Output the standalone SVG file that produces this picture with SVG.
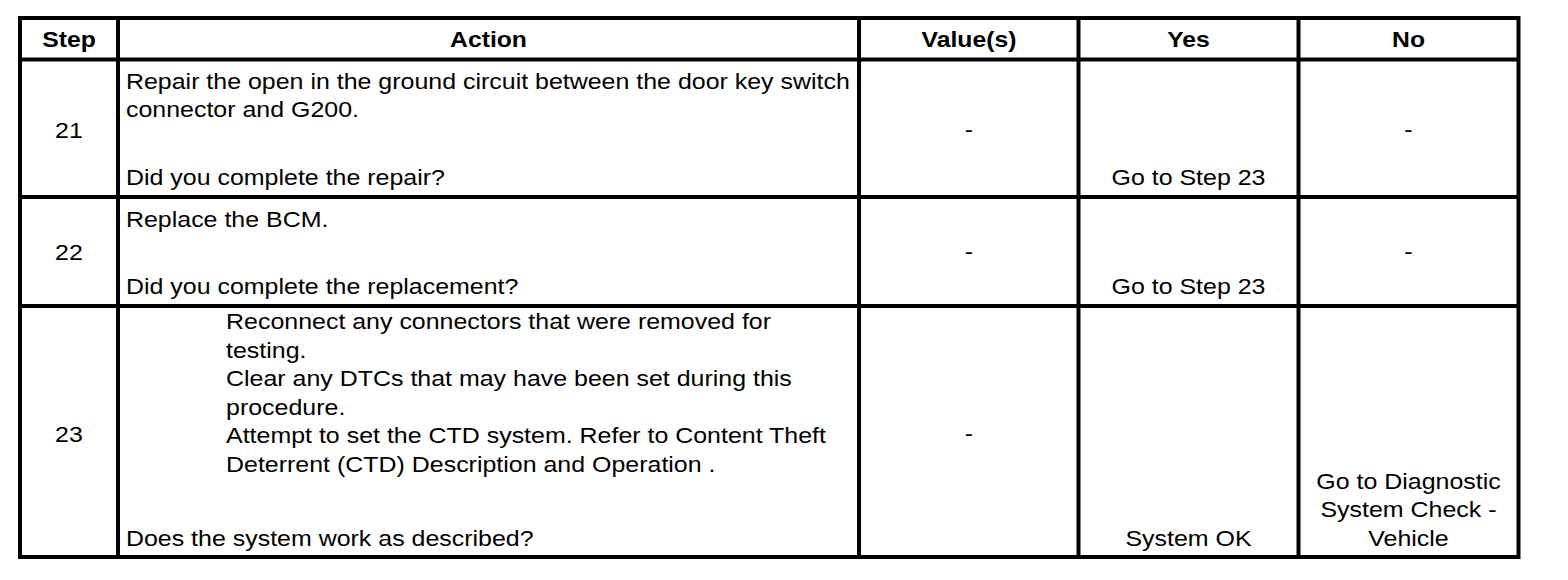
<svg xmlns="http://www.w3.org/2000/svg" width="1568" height="580" viewBox="0 0 1568 580">
  <style>
    .grid line { stroke: #000; stroke-width: 4; }
    .frame { fill: none; stroke: #000; stroke-width: 4; }
    text { font-family: "Liberation Sans", Arial, sans-serif; font-size: 21.5px; fill: #000; }
    .hd { font-weight: bold; text-anchor: middle; }
    .c { text-anchor: middle; }
  </style>
  <rect x="0" y="0" width="1568" height="580" fill="#fff"/>
  <g id="grid" class="grid">
    <rect class="frame" x="20" y="18" width="1498.5" height="539"/>
    <line x1="118" y1="18" x2="118" y2="557"/>
    <line x1="859" y1="18" x2="859" y2="557"/>
    <line x1="1078.5" y1="18" x2="1078.5" y2="557"/>
    <line x1="1298.5" y1="18" x2="1298.5" y2="557"/>
    <line x1="20" y1="59.5" x2="1518.5" y2="59.5"/>
    <line x1="20" y1="197" x2="1518.5" y2="197"/>
    <line x1="20" y1="306" x2="1518.5" y2="306"/>
  </g>
  <g id="header" transform="scale(1.15,1)">
    <text class="hd" x="60" y="47.5">Step</text>
    <text class="hd" x="424.8" y="47.5">Action</text>
    <text class="hd" x="842.6" y="47.5">Value(s)</text>
    <text class="hd" x="1033.5" y="47.5">Yes</text>
    <text class="hd" x="1224.8" y="47.5">No</text>
  </g>
  <g transform="scale(1.161,1)">
    <g id="row21">
      <text class="c" x="59.4" y="138">21</text>
      <text x="108.5" y="89">Repair the open in the ground circuit between the door key switch</text>
      <text x="108.5" y="117.5">connector and G200.</text>
      <text x="108.5" y="185">Did you complete the repair?</text>
      <text class="c" x="834.6" y="137.5">-</text>
      <text class="c" x="1023.7" y="185">Go to Step 23</text>
      <text class="c" x="1213.2" y="137.5">-</text>
    </g>
    <g id="row22">
      <text class="c" x="59.4" y="260">22</text>
      <text x="108.5" y="227">Replace the BCM.</text>
      <text x="108.5" y="294">Did you complete the replacement?</text>
      <text class="c" x="834.6" y="259">-</text>
      <text class="c" x="1023.7" y="294">Go to Step 23</text>
      <text class="c" x="1213.2" y="259">-</text>
    </g>
    <g id="row23">
      <text class="c" x="59.4" y="442">23</text>
      <text x="194.7" y="329.5">Reconnect any connectors that were removed for</text>
      <text x="194.7" y="358">testing.</text>
      <text x="194.7" y="386.5">Clear any DTCs that may have been set during this</text>
      <text x="194.7" y="415">procedure.</text>
      <text x="194.7" y="443.5">Attempt to set the CTD system. Refer to Content Theft</text>
      <text x="194.7" y="472">Deterrent (CTD) Description and Operation .</text>
      <text x="108.5" y="546.5">Does the system work as described?</text>
      <text class="c" x="834.6" y="441.5">-</text>
      <text class="c" x="1023.7" y="546.5">System OK</text>
      <text class="c" x="1213.2" y="489">Go to Diagnostic</text>
      <text class="c" x="1213.2" y="517.5">System Check -</text>
      <text class="c" x="1213.2" y="546.5">Vehicle</text>
    </g>
  </g>
</svg>
